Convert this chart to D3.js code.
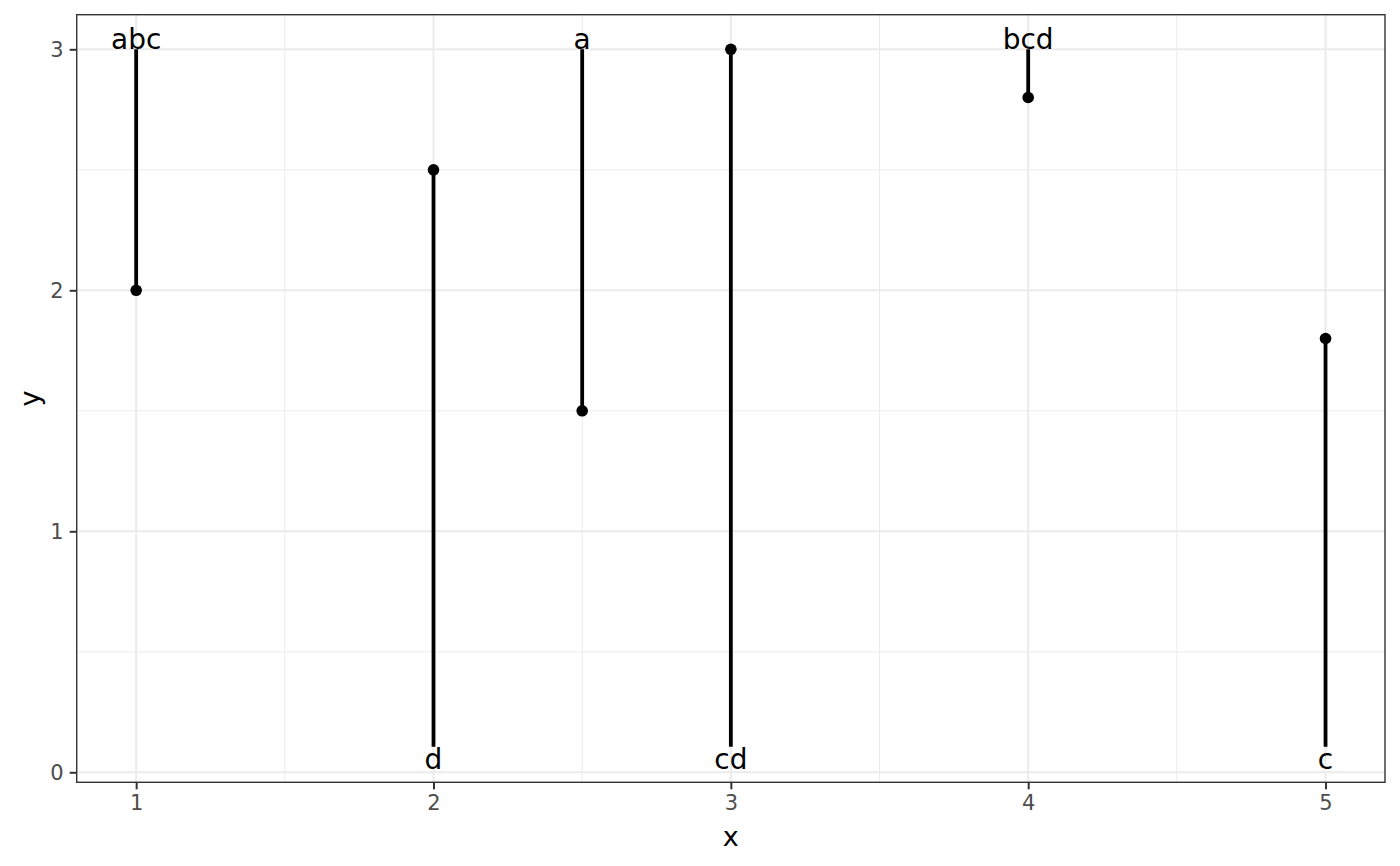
<!DOCTYPE html>
<html>
<head>
<meta charset="utf-8">
<script src="https://cdn.jsdelivr.net/npm/d3@7"></script>
<style>
  body { margin: 0; background: #fff; }
  text { font-family: "DejaVu Sans", sans-serif; }
</style>
</head>
<body>
<div id="chart"></div>
<script>
const width = 1400,
  height = 866

// data
const xs = [1, 2, 2.5, 3, 4, 5]
const ys = [2, 2.5, 1.5, 3, 2.8, 1.8]
const labels = ["abc", "d", "a", "cd", "bcd", "c"]
const labelY = [3, 0.015, 3, 0.015, 3, 0.015]
const segEnd = [3, 0.106, 3, 0.106, 3, 0.106]
const xTicks = [1, 2, 3, 4, 5]
const yTicks = [0, 1, 2, 3]
const xMinor = [1.5, 2.5, 3.5, 4.5]
const yMinor = [0.5, 1.5, 2.5]

const data = xs.map((x, i) => ({ x: x, y: ys[i], label: labels[i], ly: labelY[i], se: segEnd[i] }))

const panel = { left: 76.7, right: 1385, top: 14.7, bottom: 782.3 }

/* SCALES */
const xScale = d3.scaleLinear()
  .domain([0.8, 5.2])
  .range([panel.left, panel.right])

const yScale = d3.scaleLinear()
  .domain([0, 3])
  .range([772.3, 49.3])

const svg = d3.select("#chart")
  .append("svg")
  .attr("width", width)
  .attr("height", height)

// minor grid
svg.append("g")
  .selectAll("line")
  .data(xMinor)
  .join("line")
  .attr("x1", d => xScale(d)).attr("x2", d => xScale(d))
  .attr("y1", panel.top).attr("y2", panel.bottom)
  .attr("stroke", "#ebebeb").attr("stroke-width", 1)

svg.append("g")
  .selectAll("line")
  .data(yMinor)
  .join("line")
  .attr("y1", d => yScale(d)).attr("y2", d => yScale(d))
  .attr("x1", panel.left).attr("x2", panel.right)
  .attr("stroke", "#ebebeb").attr("stroke-width", 1)

// major grid
svg.append("g")
  .selectAll("line")
  .data(xTicks)
  .join("line")
  .attr("x1", d => xScale(d)).attr("x2", d => xScale(d))
  .attr("y1", panel.top).attr("y2", panel.bottom)
  .attr("stroke", "#ebebeb").attr("stroke-width", 2)

svg.append("g")
  .selectAll("line")
  .data(yTicks)
  .join("line")
  .attr("y1", d => yScale(d)).attr("y2", d => yScale(d))
  .attr("x1", panel.left).attr("x2", panel.right)
  .attr("stroke", "#ebebeb").attr("stroke-width", 2)

// axes
const xAxis = d3.axisBottom(xScale).tickValues(xTicks).tickSize(7).tickPadding(6).tickFormat(d3.format("d"))
const yAxis = d3.axisLeft(yScale).tickValues(yTicks).tickSize(7).tickPadding(6).tickFormat(d3.format("d"))

const xAxisGroup = svg.append("g")
  .attr("transform", `translate(0, ${panel.bottom})`)
  .call(xAxis)

const yAxisGroup = svg.append("g")
  .attr("transform", `translate(${panel.left}, 0)`)
  .call(yAxis)

;[xAxisGroup, yAxisGroup].forEach(g => {
  g.select(".domain").remove()
  g.selectAll(".tick line").attr("stroke", "#333333").attr("stroke-width", 2)
  g.selectAll(".tick text")
    .attr("fill", "#4d4d4d")
    .attr("font-size", "21px")
    .attr("font-family", "DejaVu Sans")
})

// panel border
svg.append("rect")
  .attr("x", panel.left).attr("y", panel.top)
  .attr("width", panel.right - panel.left)
  .attr("height", panel.bottom - panel.top)
  .attr("fill", "none")
  .attr("stroke", "#333333")
  .attr("stroke-width", 1.4)

// segments
svg.append("g")
  .selectAll("line")
  .data(data)
  .join("line")
  .attr("x1", d => xScale(d.x)).attr("x2", d => xScale(d.x))
  .attr("y1", d => yScale(d.y)).attr("y2", d => yScale(d.se))
  .attr("stroke", "black")
  .attr("stroke-width", 3.8)

// points
svg.append("g")
  .selectAll("circle")
  .data(data)
  .join("circle")
  .attr("cx", d => xScale(d.x))
  .attr("cy", d => yScale(d.y))
  .attr("r", 5.8)
  .attr("fill", "black")

// labels
svg.append("g")
  .selectAll("text")
  .data(data)
  .join("text")
  .attr("x", d => xScale(d.x))
  .attr("y", d => yScale(d.ly))
  .attr("text-anchor", "middle")
  .attr("font-size", "28px")
  .attr("fill", "black")
  .text(d => d.label)

// axis titles
svg.append("text")
  .attr("x", (panel.left + panel.right) / 2)
  .attr("y", 846)
  .attr("text-anchor", "middle")
  .attr("font-size", "27px")
  .text("x")

svg.append("text")
  .attr("transform", `translate(39, ${(panel.top + panel.bottom) / 2}) rotate(-90)`)
  .attr("text-anchor", "middle")
  .attr("font-size", "27px")
  .text("y")
</script>
</body>
</html>
